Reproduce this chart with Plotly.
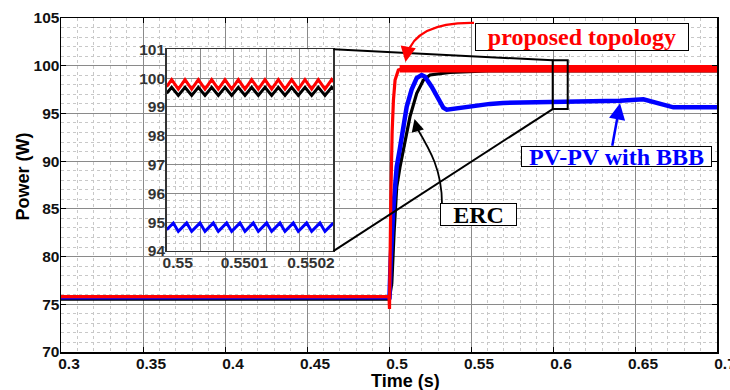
import plotly.graph_objects as go

# ---------------- main-axes data (time in s, power in W) ----------------
time_red = [0.3, 0.5000, 0.5003, 0.5005, 0.5011, 0.5019, 0.5027, 0.5037, 0.5057, 0.5085, 0.5100]
power_red = [75.8, 75.8, 74.5, 78.0, 86.0, 93.0, 96.4, 98.5, 99.55, 99.72, 99.70]

time_red_ss = [0.5065, 0.7]
power_red_ss = [99.68, 99.68]

time_blue = [0.3, 0.5003, 0.5010, 0.50165, 0.5026, 0.5037, 0.5047, 0.5067, 0.5087, 0.5108,
             0.5138, 0.5169, 0.5199, 0.5220, 0.5260, 0.5301, 0.5331, 0.5352, 0.5372, 0.5494,
             0.5616, 0.5695, 0.5962, 0.6409, 0.6551, 0.6612, 0.6734, 0.7]
power_blue = [75.75, 75.75, 79.5, 82.5, 84.9, 87.3, 89.4, 91.4, 93.9, 95.7,
              97.5, 98.7, 99.03, 98.85, 97.8, 96.4, 95.6, 95.4, 95.45, 95.7,
              96.0, 96.1, 96.15, 96.33, 96.48, 96.23, 95.64, 95.64]

time_black = [0.3, 0.5002, 0.5006, 0.5017, 0.5031, 0.5037, 0.5047, 0.5067, 0.5098, 0.5128,
              0.5169, 0.5210, 0.5250, 0.5312, 0.5372, 0.5600, 0.7]
power_black = [75.55, 75.55, 76.0, 77.2, 82.5, 84.9, 87.3, 89.4, 92.2, 94.66,
               97.1, 98.5, 99.03, 99.15, 99.3, 99.45, 99.45]

# ---------------- inset data ----------------
inset_time_rb = [0.55, 0.5500075, 0.5500175, 0.5500275, 0.5500375, 0.5500475, 0.5500575,
                 0.5500675, 0.5500775, 0.5500875, 0.5500975, 0.5501075, 0.5501175, 0.5501275,
                 0.5501375, 0.5501475, 0.5501575, 0.5501675, 0.5501775, 0.5501875, 0.5501975,
                 0.5502075, 0.5502175, 0.5502275, 0.5502375, 0.5502475, 0.55025]
inset_red = [99.70, 99.95, 99.62, 99.95, 99.62, 99.95, 99.62, 99.95, 99.62, 99.95, 99.62,
             99.95, 99.62, 99.95, 99.62, 99.95, 99.62, 99.95, 99.62, 99.95, 99.62, 99.95,
             99.62, 99.95, 99.62, 99.95, 99.87]
inset_black = [99.47, 99.68, 99.40, 99.68, 99.40, 99.68, 99.40, 99.68, 99.40, 99.68, 99.40,
               99.68, 99.40, 99.68, 99.40, 99.68, 99.40, 99.68, 99.40, 99.68, 99.40, 99.68,
               99.40, 99.68, 99.40, 99.68, 99.61]

inset_time_blue = [0.55, 0.55001, 0.5500175, 0.55003, 0.5500375, 0.55005, 0.5500575, 0.55007,
                   0.5500775, 0.55009, 0.5500975, 0.55011, 0.5501175, 0.55013, 0.5501375,
                   0.55015, 0.5501575, 0.55017, 0.5501775, 0.55019, 0.5501975, 0.55021,
                   0.5502175, 0.55023, 0.5502375, 0.55025]
inset_blue = [94.74, 94.97, 94.68, 94.97, 94.68, 94.97, 94.68, 94.97, 94.68, 94.97, 94.68,
              94.97, 94.68, 94.97, 94.68, 94.97, 94.68, 94.97, 94.68, 94.97, 94.68, 94.97,
              94.68, 94.97, 94.68, 94.97]

inset_xtick_vals = [0.55, 0.55005, 0.5501, 0.55015, 0.5502, 0.55025]
inset_xtick_text = ["0.55", "", "0.5501", "", "0.5502", ""]

# ---------------- figure ----------------
RED, BLUE, BLACK = "#ff0000", "#0000ff", "#000000"
tickfont = dict(family="Liberation Sans, Arial, sans-serif", size=15.5, color="#111111", weight="bold")
inset_tickfont = dict(family="Liberation Sans, Arial, sans-serif", size=15.5, color="#333333", weight="bold")

fig = go.Figure()
fig.add_trace(go.Scatter(x=time_black, y=power_black, mode="lines",
                         line=dict(color=BLACK, width=3.2), xaxis="x", yaxis="y"))
fig.add_trace(go.Scatter(x=time_blue, y=power_blue, mode="lines",
                         line=dict(color=BLUE, width=4.5), xaxis="x", yaxis="y"))
fig.add_trace(go.Scatter(x=time_red, y=power_red, mode="lines",
                         line=dict(color=RED, width=3.2), xaxis="x", yaxis="y"))
fig.add_trace(go.Scatter(x=time_red_ss, y=power_red_ss, mode="lines",
                         line=dict(color=RED, width=7.5), xaxis="x", yaxis="y"))

fig.add_trace(go.Scatter(x=inset_time_rb, y=inset_red, mode="lines",
                         line=dict(color=RED, width=3), xaxis="x2", yaxis="y2"))
fig.add_trace(go.Scatter(x=inset_time_rb, y=inset_black, mode="lines",
                         line=dict(color=BLACK, width=3), xaxis="x2", yaxis="y2"))
fig.add_trace(go.Scatter(x=inset_time_blue, y=inset_blue, mode="lines",
                         line=dict(color=BLUE, width=3), xaxis="x2", yaxis="y2"))

major_grid = dict(showgrid=True, gridcolor="#8a8a8a", gridwidth=1)
minor_grid_color = "#c8c8c8"

fig.update_layout(
    width=730, height=390, autosize=False,
    margin=dict(l=61, r=13, t=18, b=38, autoexpand=False),
    paper_bgcolor="white", plot_bgcolor="white",
    showlegend=False, hovermode=False,
    xaxis=dict(domain=[0, 1], range=[0.3, 0.7], tick0=0.3, dtick=0.05, **major_grid,
               minor=dict(dtick=0.01, showgrid=True, gridcolor=minor_grid_color, griddash="dot", gridwidth=1),
               showline=True, linecolor="black", linewidth=1.5, mirror="ticks", automargin=False,
               ticks="inside", ticklen=5, tickcolor="black", tickfont=tickfont, zeroline=False,
               ticklabelstandoff=-3, ticklabelshift=8, ticklabeloverflow="allow"),
    yaxis=dict(domain=[0, 1], range=[70, 105], tick0=70, dtick=5, **major_grid,
               minor=dict(dtick=1, showgrid=True, gridcolor=minor_grid_color, griddash="dot", gridwidth=1),
               showline=True, linecolor="black", linewidth=1.5, mirror="ticks", automargin=False,
               ticks="inside", ticklen=5, tickcolor="black", tickfont=tickfont, zeroline=False,
               ticklabelstandoff=-3),
    xaxis2=dict(domain=[0.1611, 0.4151], anchor="y2", range=[0.55, 0.55025],
                tickmode="array", tickvals=inset_xtick_vals, ticktext=inset_xtick_text,
                ticklabelshift=11, ticklabelstandoff=-3, ticklabeloverflow="allow",
                automargin=False, **major_grid,
                minor=dict(tick0=0.55, dtick=0.0000125, showgrid=True, gridcolor=minor_grid_color,
                           griddash="dot", gridwidth=1),
                showline=True, linecolor="#333333", linewidth=1.5, mirror=True,
                ticks="", tickfont=inset_tickfont, zeroline=False),
    yaxis2=dict(domain=[0.3024, 0.9063], anchor="x2", range=[94, 101], tick0=94, dtick=1,
                ticklabelstandoff=-3, automargin=False, **major_grid,
                minor=dict(dtick=0.25, showgrid=True, gridcolor=minor_grid_color, griddash="dot", gridwidth=1),
                showline=True, linecolor="#333333", linewidth=1.5, mirror=True,
                ticks="", tickfont=inset_tickfont, zeroline=False),
)

# zoom rectangle and connector lines
fig.add_shape(type="rect", xref="x", yref="y", x0=0.59982, x1=0.60897, y0=95.46, y1=100.57,
              line=dict(color="black", width=2), layer="above")
fig.add_shape(type="line", xref="x", yref="y", x0=0.46604, y0=101.72, x1=0.59982, y1=100.57,
              line=dict(color="black", width=2), layer="above")
fig.add_shape(type="line", xref="x", yref="y", x0=0.46604, y0=80.58, x1=0.59982, y1=95.46,
              line=dict(color="black", width=2), layer="above")

# curved arrows (red and black)
fig.add_shape(type="path", xref="x", yref="y",
              path="M 0.55183 104.48 Q 0.51646 104.58 0.51098 101.12",
              line=dict(color=RED, width=2.2), layer="above")
fig.add_annotation(x=0.51006, y=100.39, xref="x", yref="y", text="", showarrow=True,
                   ax=2, ay=-11, arrowhead=2, arrowsize=1.4, arrowwidth=2.2, arrowcolor=RED)

fig.add_shape(type="path", xref="x", yref="y",
              path="M 0.53232 85.51 C 0.53232 89.07 0.52500 91.17 0.51707 93.47",
              line=dict(color=BLACK, width=1.8), layer="above")
fig.add_annotation(x=0.51555, y=94.42, xref="x", yref="y", text="", showarrow=True,
                   ax=3, ay=11, arrowhead=2, arrowsize=1.4, arrowwidth=1.8, arrowcolor=BLACK)

# straight blue arrow
fig.add_annotation(x=0.64085, y=96.06, xref="x", yref="y", text="", showarrow=True,
                   ax=-8, ay=44, arrowhead=2, arrowsize=1.3, arrowwidth=2.5, arrowcolor=BLUE)

serif = "Liberation Serif, Times New Roman, serif"
fig.add_annotation(x=0.61768, y=103.01, xref="x", yref="y", showarrow=False,
                   text="<b>proposed topology</b>", font=dict(family=serif, size=24, color=RED),
                   bgcolor="white", bordercolor="black", borderwidth=1, borderpad=0,
                   width=212, height=26)
fig.add_annotation(x=0.63902, y=90.47, xref="x", yref="y", showarrow=False,
                   text="<b>PV-PV with BBB</b>", font=dict(family=serif, size=24, color=BLUE),
                   bgcolor="white", bordercolor="black", borderwidth=1, borderpad=0,
                   width=189, height=19)
fig.add_annotation(x=0.55427, y=84.36, xref="x", yref="y", showarrow=False,
                   text="<b>ERC</b>", font=dict(family=serif, size=24, color=BLACK),
                   bgcolor="white", bordercolor="black", borderwidth=1, borderpad=0,
                   width=75, height=21)

# axis titles
titlefont = dict(family="Liberation Sans, Arial, sans-serif", size=18, color="black")
fig.add_annotation(x=0.5259, y=-0.0868, xref="paper", yref="paper", showarrow=False,
                   text="<b>Time (s)</b>", font=titlefont, xanchor="center", yanchor="middle")
fig.add_annotation(x=-0.0572, y=0.527, xref="paper", yref="paper", showarrow=False,
                   text="<b>Power (W)</b>", font=titlefont, textangle=-90,
                   xanchor="center", yanchor="middle")

fig.write_html("out.html",
               config={"displayModeBar": False, "responsive": False, "staticPlot": True},
               post_script="document.body.style.margin='0';document.body.style.padding='0';"
                           "document.body.style.overflow='hidden';")
